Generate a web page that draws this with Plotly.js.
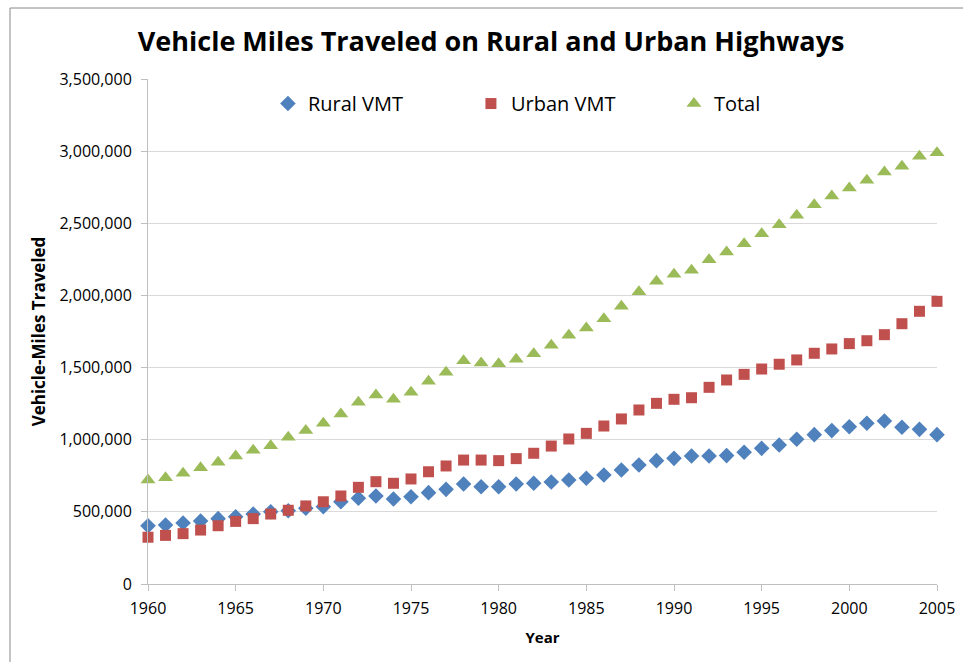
<!DOCTYPE html>
<html>
<head>
<meta charset="utf-8">
<script src="https://cdn.plot.ly/plotly-3.0.1.min.js"></script>
<style>
  html, body { margin: 0; padding: 0; background: #fff; }
  #chart { width: 963px; height: 662px; }
</style>
</head>
<body>
<div id="chart"></div>
<script>
const years = [1960,1961,1962,1963,1964,1965,1966,1967,1968,1969,
  1970,1971,1972,1973,1974,1975,1976,1977,1978,1979,
  1980,1981,1982,1983,1984,1985,1986,1987,1988,1989,
  1990,1991,1992,1993,1994,1995,1996,1997,1998,1999,
  2000,2001,2002,2003,2004,2005];

const ruralVMT = [403000,409000,423000,437000,453000,466000,485000,501000,508000,525000,
  536000,570000,594000,610000,589000,605000,633000,656000,693000,674000,
  674000,693000,698000,707000,721000,733000,755000,790000,825000,855000,
  871000,887000,887000,890000,913000,940000,963000,1003000,1035000,1063000,
  1090000,1114000,1130000,1086000,1072000,1035000];

const urbanVMT = [324000,337000,349000,374000,404000,434000,453000,485000,511000,541000,
  570000,610000,670000,709000,698000,728000,778000,818000,859000,859000,
  855000,869000,906000,956000,1005000,1044000,1095000,1144000,1206000,1252000,
  1280000,1291000,1363000,1414000,1453000,1490000,1523000,1553000,1599000,1629000,
  1666000,1686000,1728000,1804000,1890000,1959000];

const totalVMT = [721000,737000,767000,806000,843000,887000,927000,959000,1017000,1063000,
  1114000,1178000,1259000,1310000,1280000,1329000,1405000,1467000,1548000,1532000,
  1527000,1557000,1596000,1654000,1724000,1774000,1839000,1925000,2026000,2098000,
  2146000,2174000,2248000,2301000,2359000,2428000,2490000,2555000,2629000,2689000,
  2745000,2798000,2855000,2895000,2965000,2988000];

const seriesNames = ['Rural VMT', 'Urban VMT', 'Total'];
const titleText = 'Vehicle Miles Traveled on Rural and Urban Highways';
const xTitle = 'Year';
const yTitle = 'Vehicle-Miles Traveled';

const FONT = '"Open Sans", "DejaVu Sans", sans-serif';

const traces = [
  { x: years, y: ruralVMT, name: seriesNames[0], type: 'scatter', mode: 'markers', cliponaxis: false,
    marker: { symbol: 'diamond', size: 12, color: '#4F81BD' } },
  { x: years, y: urbanVMT, name: seriesNames[1], type: 'scatter', mode: 'markers', cliponaxis: false,
    marker: { symbol: 'square', size: 11, color: '#C0504D' } },
  { x: years, y: totalVMT, name: seriesNames[2], type: 'scatter', mode: 'markers', cliponaxis: false,
    marker: { symbol: 'triangle-up', size: 13, color: '#9BBB59' } }
];

const layout = {
  width: 963, height: 662,
  paper_bgcolor: '#ffffff', plot_bgcolor: '#ffffff',
  margin: { l: 148, r: 26, t: 79, b: 78, pad: 0 },
  font: { family: FONT, color: '#000', size: 16 },
  title: { text: '<b>' + titleText + '</b>', font: { family: FONT, size: 27, color: '#000' },
           x: 0.51, xref: 'container', y: 1 - 42/662, yref: 'container', yanchor: 'middle', xanchor: 'center' },
  xaxis: {
    range: [1960, 2005], dtick: 5, tick0: 1960, tickmode: 'linear',
    showgrid: false, zeroline: false,
    showline: true, linecolor: '#bfbfbf', linewidth: 1,
    ticks: 'outside', ticklen: 6, tickcolor: '#bfbfbf',
    ticklabelstandoff: 4,
    tickfont: { family: FONT, size: 16, color: '#000' },
    title: { text: '<b>' + xTitle + '</b>', font: { family: FONT, size: 15, color: '#000' }, standoff: 14 }
  },
  yaxis: {
    range: [0, 3500000], dtick: 500000, tick0: 0, tickmode: 'linear',
    tickformat: ',d',
    showgrid: true, gridcolor: '#d9d9d9', gridwidth: 1, zeroline: false,
    showline: true, linecolor: '#bfbfbf', linewidth: 1,
    ticks: 'outside', ticklen: 6, tickcolor: '#bfbfbf',
    ticklabelstandoff: 6,
    tickfont: { family: FONT, size: 16, color: '#000' },
    title: { text: '<b>' + yTitle + '</b>', font: { family: FONT, size: 17, color: '#000' }, standoff: 9 }
  },
  showlegend: true,
  legend: {
    orientation: 'h', x: 0.152, xanchor: 'left', y: 0.99, yanchor: 'top',
    bgcolor: 'rgba(0,0,0,0)', font: { family: FONT, size: 20, color: '#000' },
    entrywidth: 158, entrywidthmode: 'pixels', itemsizing: 'trace'
  },
  shapes: [
    { type: 'line', xref: 'paper', yref: 'paper', x0: (10-148)/789, x1: (10-148)/789, y0: (584-8)/505, y1: -0.2, line: { color: '#888888', width: 1 } },
    { type: 'line', xref: 'paper', yref: 'paper', x0: (10-148)/789, x1: 1.1, y0: (584-8)/505, y1: (584-8)/505, line: { color: '#888888', width: 1 } }
  ]
};

Plotly.newPlot('chart', traces, layout, { displayModeBar: false, staticPlot: true });
</script>
</body>
</html>
